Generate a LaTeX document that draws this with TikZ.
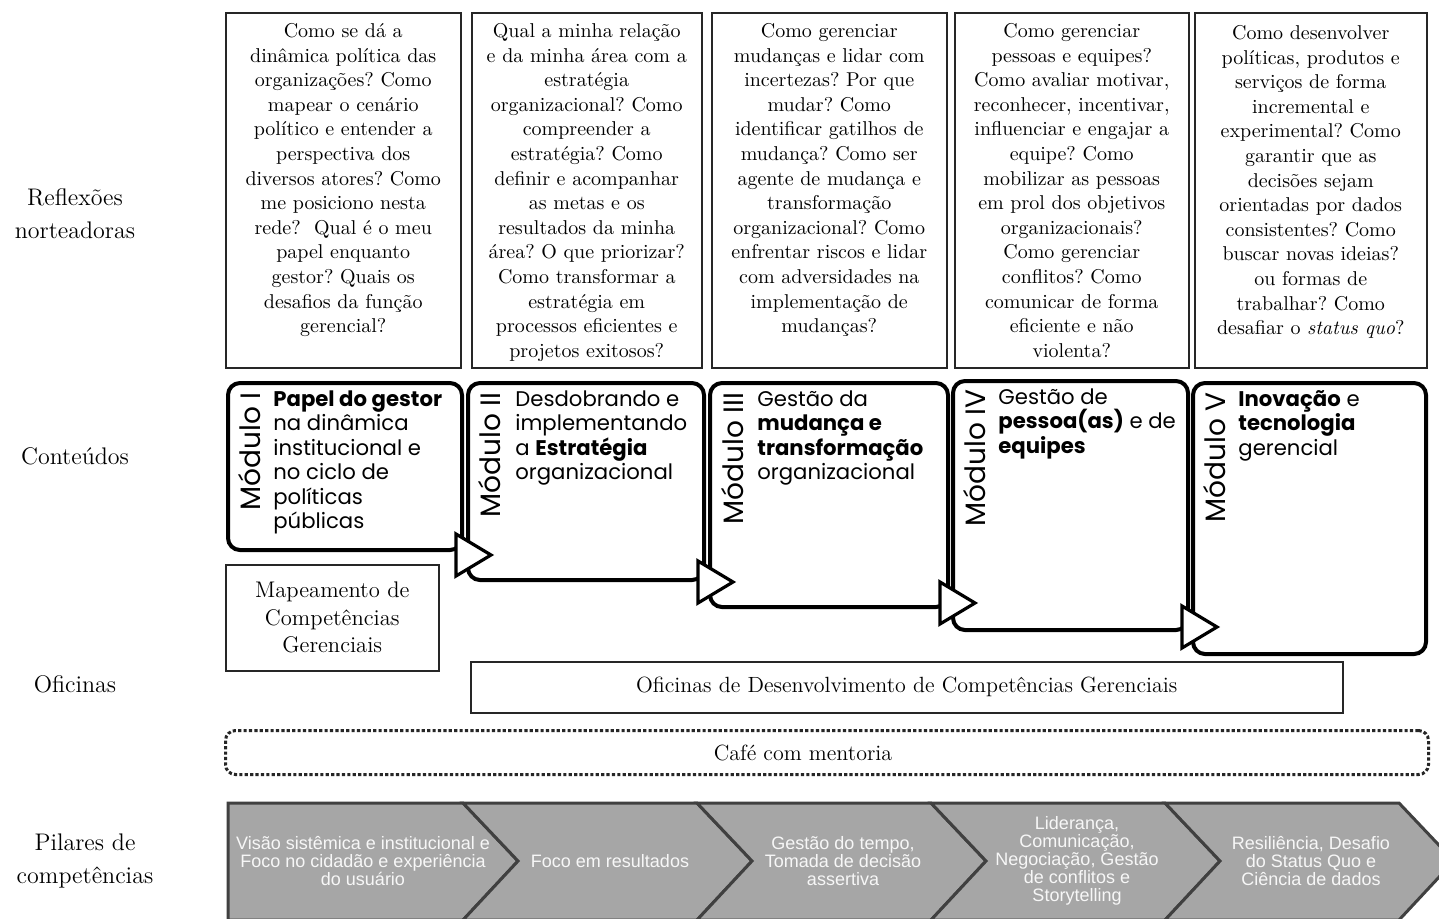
\documentclass[tikz,border=0pt]{standalone}
\usepackage{fontspec}
\newfontfamily\modfont{Poppins}
\newfontfamily\chevfont{Liberation Sans}
\usetikzlibrary{calc}
\definecolor{chevfill}{HTML}{A6A6A6}
\definecolor{chevline}{HTML}{404040}
\definecolor{chevtext}{HTML}{F7F7F7}
\frenchspacing
\begin{document}
\begin{tikzpicture}[x=0.5pt,y=-0.5pt,
  qbox/.style={draw=black!85, line width=0.75pt, inner sep=0pt, anchor=north west, minimum height=177.5pt},
  qtext/.style={anchor=north, inner sep=0pt, align=center, font=\fontsize{10}{12.3}\selectfont},
  modbox/.style={draw=black, line width=2pt, rounded corners=6pt, fill=white, inner sep=0pt, anchor=north west},
  modlabel/.style={rotate=90, anchor=base east, inner sep=0pt, font=\modfont\fontsize{14}{14}\selectfont},
  modtext/.style={anchor=north west, inner sep=0pt, align=left, font=\modfont\fontsize{10.6}{12.25}\selectfont},
  modarrow/.style={draw=black, line width=1.6pt, fill=white, line join=miter},
  plainbox/.style={draw=black!85, line width=0.75pt, inner sep=0pt, anchor=north west},
  sidelabel/.style={align=center, inner sep=0pt, font=\fontsize{12}{16.5}\selectfont},
  chev/.style={fill=chevfill, draw=chevline, line width=1.5pt, line join=miter},
  chevtxt/.style={align=center, inner sep=0pt, text=chevtext, font=\chevfont\fontsize{9}{9}\selectfont}
]
\useasboundingbox (0,0) rectangle (1439,918);
\fill[white] (0,0) rectangle (1439,918);

% ---------- side labels ----------
\node[sidelabel] (l1) at (75,214) {Reflexões\\norteadoras};
\node[sidelabel] (l2) at (75,456) {Conteúdos};
\node[sidelabel] (l3) at (75,684) {Oficinas};
\node[sidelabel] (l4) at (85,861) {Pilares de\\competências};

% ---------- guiding questions ----------
\node[qbox, minimum width=117.5pt] (q1) at (225,12) {};
\node[qbox, minimum width=115pt] (q2) at (471,12) {};
\node[qbox, minimum width=117.5pt] (q3) at (711,12) {};
\node[qbox, minimum width=117pt] (q4) at (954,12) {};
\node[qbox, minimum width=116pt] (q5) at (1194,12) {};

\node[qtext] (q1t) at ($(q1.north)+(0,11)$) {Como se dá a\\dinâmica política das\\organizações? Como\\mapear o cenário\\político e entender a\\perspectiva dos\\diversos atores? Como\\me posiciono nesta\\rede?\ \ Qual é o meu\\papel enquanto\\gestor? Quais os\\desafios da função\\gerencial?};
\node[qtext] (q2t) at ($(q2.north)+(0,11)$) {Qual a minha relação\\e da minha área com a\\estratégia\\organizacional? Como\\compreender a\\estratégia? Como\\definir e acompanhar\\as metas e os\\resultados da minha\\área? O que priorizar?\\Como transformar a\\estratégia em\\processos eficientes e\\projetos exitosos?};
\node[qtext] (q3t) at ($(q3.north)+(0,11)$) {Como gerenciar\\mudanças e lidar com\\incertezas? Por que\\mudar? Como\\identificar gatilhos de\\mudança? Como ser\\agente de mudança e\\transformação\\organizacional? Como\\enfrentar riscos e lidar\\com adversidades na\\implementação de\\mudanças?};
\node[qtext] (q4t) at ($(q4.north)+(0,11)$) {Como gerenciar\\pessoas e equipes?\\Como avaliar motivar,\\reconhecer, incentivar,\\influenciar e engajar a\\equipe? Como\\mobilizar as pessoas\\em prol dos objetivos\\organizacionais?\\Como gerenciar\\conflitos? Como\\comunicar de forma\\eficiente e não\\violenta?};
\node[qtext] (q5t) at ($(q5.north)+(0,13)$) {Como desenvolver\\políticas, produtos e\\serviços de forma\\incremental e\\experimental? Como\\garantir que as\\decisões sejam\\orientadas por dados\\consistentes? Como\\buscar novas ideias?\\ou formas de\\trabalhar? Como\\desafiar o \textit{status quo}?};

% ---------- modules ----------
\node[modbox, minimum width=117pt, minimum height=83.5pt] (m1) at (226,381) {};
\node[modbox, minimum width=118pt, minimum height=98.5pt] (m2) at (466,381) {};
\node[modbox, minimum width=119pt, minimum height=112pt] (m3) at (708,381) {};
\node[modbox, minimum width=117.5pt, minimum height=124.5pt] (m4) at (951,379) {};
\node[modbox, minimum width=116.5pt, minimum height=135.5pt] (m5) at (1191,381) {};

\node[modlabel] (m1l) at ($(m1.north west)+(34,11)$) {Módulo I};
\node[modlabel] (m2l) at ($(m2.north west)+(34,11)$) {Módulo II};
\node[modlabel] (m3l) at ($(m3.north west)+(35,11)$) {Módulo III};
\node[modlabel] (m4l) at ($(m4.north west)+(34,10)$) {Módulo IV};
\node[modlabel] (m5l) at ($(m5.north west)+(34,11)$) {Módulo V};

\node[modtext] (m1t) at ($(m1.north west)+(47,9)$) {\textbf{Papel do gestor}\\na dinâmica\\institucional e\\no ciclo de\\políticas\\públicas};
\node[modtext] (m2t) at ($(m2.north west)+(49,9)$) {Desdobrando e\\implementando\\a \textbf{Estratégia}\\organizacional};
\node[modtext] (m3t) at ($(m3.north west)+(49,9)$) {Gestão da\\\textbf{mudança e}\\\textbf{transformação}\\organizacional};
\node[modtext] (m4t) at ($(m4.north west)+(47,9)$) {Gestão de\\\textbf{pessoa(as)} e de\\\textbf{equipes}};
\node[modtext] (m5t) at ($(m5.north west)+(47,9)$) {\textbf{Inovação} e\\\textbf{tecnologia}\\gerencial};

\draw[modarrow] ($(m1.east |- m2.south)+(-8,-48)$) -- ++(35,21) -- ++(-35,21) -- cycle;
\draw[modarrow] ($(m2.east |- m3.south)+(-8,-48)$) -- ++(35,21) -- ++(-35,21) -- cycle;
\draw[modarrow] ($(m3.east |- m4.south)+(-10,-50)$) -- ++(35,21) -- ++(-35,21) -- cycle;
\draw[modarrow] ($(m4.east |- m5.south)+(-8,-50)$) -- ++(35,21) -- ++(-35,21) -- cycle;

% ---------- workshops ----------
\node[plainbox, minimum width=106.5pt, minimum height=53pt] (map) at (225,564) {};
\node[align=center, inner sep=0pt, font=\fontsize{11.3}{13.75}\selectfont] (mapt) at (map.center) {Mapeamento de\\Competências\\Gerenciais};
\node[plainbox, minimum width=436pt, minimum height=25.5pt] (ofi) at (470,661) {};
\node[inner sep=0pt, font=\fontsize{11}{13}\selectfont] (ofit) at (ofi.center) {Oficinas de Desenvolvimento de Competências Gerenciais};
\node[draw=black!85, line width=1.5pt, dash pattern=on 1.6pt off 1.1pt, rounded corners=5pt, inner sep=0pt, anchor=north west, minimum width=601.5pt, minimum height=22pt] (cafe) at (224,729) {};
\node[inner sep=0pt, font=\fontsize{11}{13}\selectfont] (cafet) at (cafe.center -| 803,0) {Café com mentoria};

% ---------- competence pillars ----------
\draw[chev] (228,803) -- (463,803) -- (518,861) -- (463,920) -- (228,920) -- cycle;
\draw[chev] (463,803) -- (697,803) -- (752,861) -- (697,920) -- (463,920) -- (518,861) -- cycle;
\draw[chev] (697,803) -- (931,803) -- (986,861) -- (931,920) -- (697,920) -- (752,861) -- cycle;
\draw[chev] (931,803) -- (1165,803) -- (1220,861) -- (1165,920) -- (931,920) -- (986,861) -- cycle;
\draw[chev] (1165,803) -- (1399,803) -- (1454,861) -- (1399,920) -- (1165,920) -- (1220,861) -- cycle;

\node[chevtxt] (c1) at (363,861) {Visão sistêmica e institucional e\\Foco no cidadão e experiência\\do usuário};
\node[chevtxt] (c2) at (610,861) {Foco em resultados};
\node[chevtxt] (c3) at (843,861) {Gestão do tempo,\\Tomada de decisão\\assertiva};
\node[chevtxt] (c4) at (1077,861) {Liderança,\\Comunicação,\\Negociação, Gestão\\de conflitos e\\Storytelling};
\node[chevtxt] (c5) at (1311,861) {Resiliência, Desafio\\do Status Quo e\\Ciência de dados};
\end{tikzpicture}
\end{document}
